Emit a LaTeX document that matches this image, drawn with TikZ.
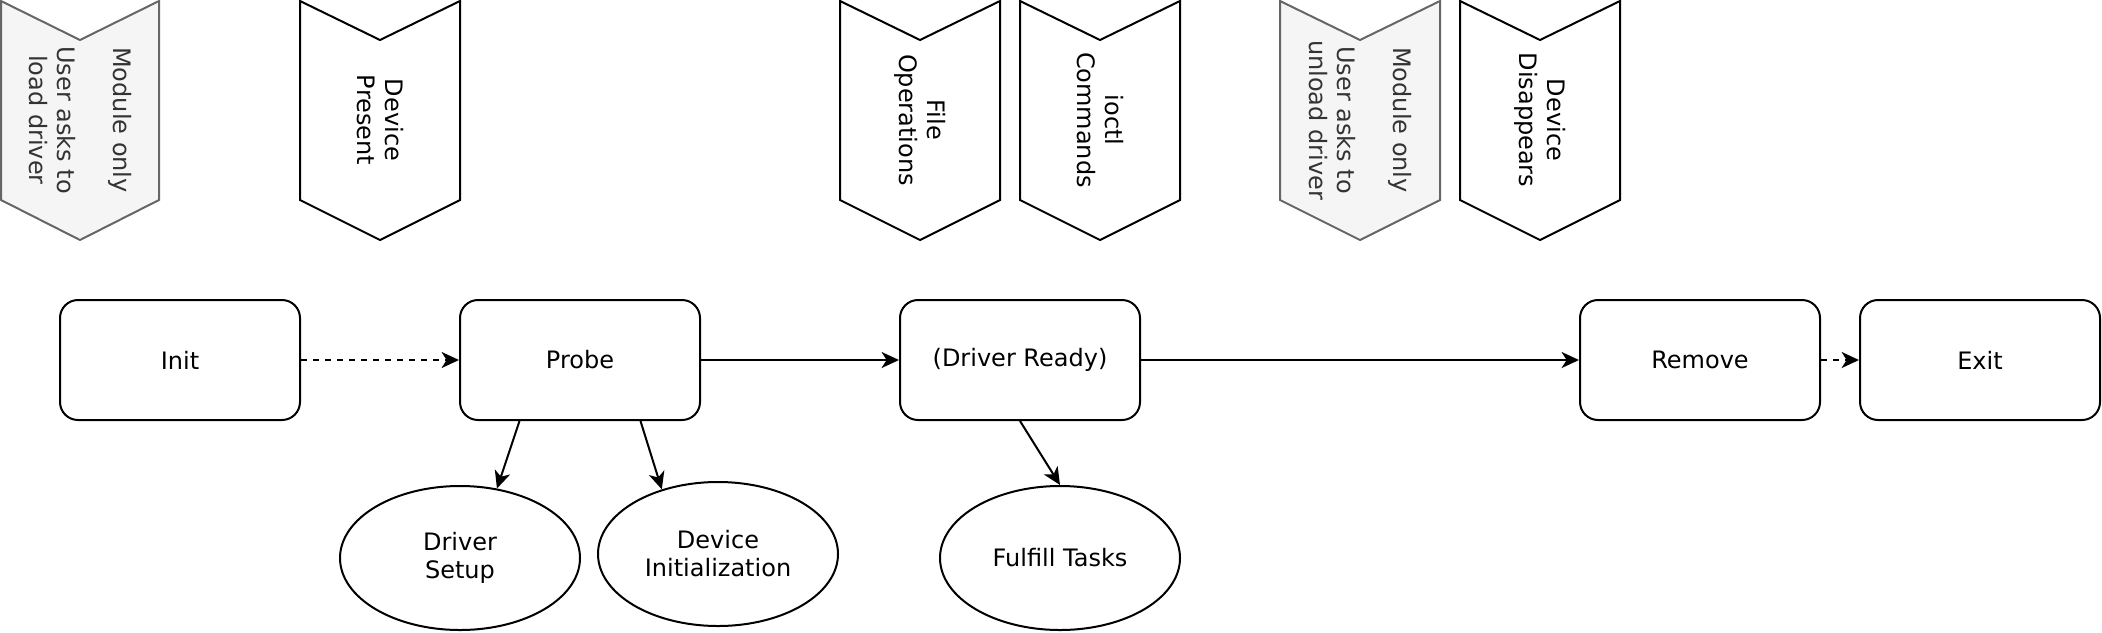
\documentclass[tikz,border=0pt]{standalone}
\usepackage{fontspec}
\setmainfont{DejaVu Sans}
\usetikzlibrary{shapes.geometric,arrows.meta,calc}
\definecolor{grayline}{HTML}{666666}
\definecolor{grayfill}{HTML}{F5F5F5}
\definecolor{graytext}{HTML}{333333}
\begin{document}
\begin{tikzpicture}[x=1pt,y=-1pt,
  every node/.style={font=\fontsize{12}{14}\selectfont},
  box/.style={draw,rounded corners=9pt,minimum width=120pt,minimum height=60pt,inner sep=0pt,line width=1pt},
  oval/.style={draw,ellipse,minimum width=120pt,minimum height=72pt,inner sep=0pt,line width=1pt,align=center},
  chev/.style={draw,fill=white,line width=1pt,line join=miter},
  chevgray/.style={draw=grayline,fill=grayfill,line width=1pt,line join=miter},
  chevtext/.style={rotate=-90,align=center,inner sep=0pt},
  arr/.style={-{Stealth[length=8.7pt,width=8pt,inset=2.5pt]},line width=1pt},
  dsh/.style={arr,dash pattern=on 3pt off 3pt}
]
\useasboundingbox (0,0) rectangle (1051,316);

% chevrons
\draw[chevgray] (0.5,0.5) -- (40,20) -- (79.5,0.5) -- (79.5,100) -- (40,120) -- (0.5,100) -- cycle;
\node[chevtext,text=graytext] (c1) at (40,60) {Module only\\\\User asks to\\load driver};

\draw[chev] (150,0.5) -- (190,20) -- (230,0.5) -- (230,100) -- (190,120) -- (150,100) -- cycle;
\node[chevtext] (c2) at (190,60) {Device\\Present};

\draw[chev] (420,0.5) -- (460,20) -- (500,0.5) -- (500,100) -- (460,120) -- (420,100) -- cycle;
\node[chevtext] (c3) at (460,60) {File\\Operations};

\draw[chev] (510,0.5) -- (550,20) -- (590,0.5) -- (590,100) -- (550,120) -- (510,100) -- cycle;
\node[chevtext] (c4) at (550,60) {ioctl\\Commands};

\draw[chevgray] (640,0.5) -- (680,20) -- (720,0.5) -- (720,100) -- (680,120) -- (640,100) -- cycle;
\node[chevtext,text=graytext] (c5) at (680,60) {Module only\\\\User asks to\\unload driver};

\draw[chev] (730,0.5) -- (770,20) -- (810,0.5) -- (810,100) -- (770,120) -- (730,100) -- cycle;
\node[chevtext] (c6) at (770,60) {Device\\Disappears};

% boxes
\node[box] (init) at (90,180) {Init};
\node[box] (probe) at (290,180) {Probe};
\node[box] (ready) at (510,180) {(Driver Ready)};
\node[box] (remove) at (850,180) {Remove};
\node[box] (exit) at (990,180) {Exit};

% ellipses
\node[oval] (ds) at (230,279) {Driver\\Setup};
\node[oval] (di) at (359,277) {Device\\Initialization};
\node[oval] (ft) at (530,279) {Fulfill Tasks};

% connectors
\draw[dsh] (init) -- (probe);
\draw[arr] (probe) -- (ready);
\draw[arr] (ready) -- (remove);
\draw[dsh] (remove) -- (exit);
\draw[arr] ($(probe.south west)!0.25!(probe.south east)$) -- (ds.62);
\draw[arr] ($(probe.south west)!0.75!(probe.south east)$) -- (di.131);
\draw[arr] (ready.south) -- (ft.north);
\end{tikzpicture}
\end{document}
